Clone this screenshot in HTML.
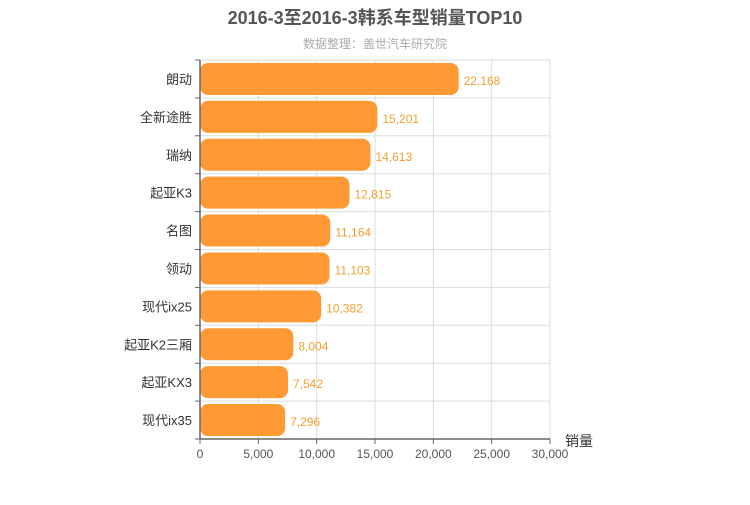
<!DOCTYPE html>
<html><head><meta charset="utf-8"><style>
body{margin:0;background:#fff}
svg text{font-family:"Liberation Sans","Noto Sans CJK SC",sans-serif}
</style></head><body>
<svg width="750" height="500" id="c">
<text x="375" y="24" text-anchor="middle" font-size="18" font-weight="bold" fill="#555">2016-3至2016-3韩系车型销量TOP10</text>
<text x="375" y="48" text-anchor="middle" font-size="12" fill="#aaa">数据整理：盖世汽车研究院</text>
<g id="grid"></g>
<g id="bars"></g>
<g id="axes"></g>
<text x="565" y="446" font-size="14" fill="#333">销量</text>
</svg>
<script>
const categories=["朗动","全新途胜","瑞纳","起亚K3","名图","领动","现代ix25","起亚K2三厢","起亚KX3","现代ix35"];
const values=[22168,15201,14613,12815,11164,11103,10382,8004,7542,7296];
const ticks=[0,5000,10000,15000,20000,25000,30000];
const NS="http://www.w3.org/2000/svg";
const X0=200,X1=550,Y0=60,Y1=439,XMAX=30000;
const xs=v=>X0+(v/XMAX)*(X1-X0);
const rowH=(Y1-Y0)/categories.length;
const fmt=v=>v.toLocaleString('en-US');
function mk(t,a,p){const e=document.createElementNS(NS,t);for(const k in a)e.setAttribute(k,a[k]);p.appendChild(e);return e;}
const g=document.getElementById('grid'),b=document.getElementById('bars'),ax=document.getElementById('axes');
ticks.forEach(t=>{
 const l=mk('line',{x1:xs(t),x2:xs(t),y1:Y0,y2:Y1,stroke:'#ddd'},g);
 
 
 const tk=mk('line',{x1:xs(t),x2:xs(t),y1:Y1,y2:Y1+5,stroke:'#666'},ax);
 
 
 const tx=mk('text',{x:xs(t),y:Y1+19,'text-anchor':'middle','font-size':12,fill:'#555'},ax);
 tx.textContent=fmt(t);
 
 
});
for(let i=0;i<=categories.length;i++){
 const y=Y0+i*rowH;
 const l=mk('line',{x1:X0,x2:X1,y1:y,y2:y,stroke:'#ddd'},g);
 
 
 const tk=mk('line',{x1:X0-5,x2:X0,y1:y,y2:y,stroke:'#666'},ax);
 
 
}
categories.forEach((c,i)=>{
 const yc=Y0+(i+0.5)*rowH;
 const r=mk('rect',{x:X0,y:yc-16,width:xs(values[i])-X0,height:32,rx:8,fill:'#ff9933'},b);
 
 
 const v=mk('text',{x:xs(values[i])+5,y:yc+6,'font-size':12,fill:'#f0a030'},b);
 v.textContent=fmt(values[i]);
 
 
 const lb=mk('text',{x:X0-8,y:yc+5,'text-anchor':'end','font-size':13,fill:'#333'},ax);
 lb.textContent=c;
 
 
});
const xa=mk('line',{x1:X0,x2:X1,y1:Y1,y2:Y1,stroke:'#666','stroke-width':1.5},ax);


const ya=mk('line',{x1:X0,x2:X0,y1:Y0,y2:Y1,stroke:'#666','stroke-width':1.5},ax);


</script>
</body></html>
